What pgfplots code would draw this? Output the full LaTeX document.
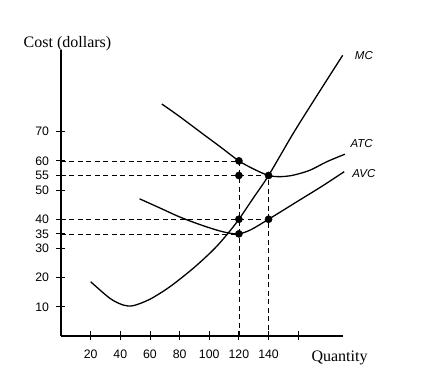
\documentclass[border=0pt]{standalone}
\usepackage{pgfplots}
\pgfplotsset{compat=1.18}
\usetikzlibrary{calc}
\usepackage{fontspec}
\setmainfont{Liberation Serif}
\newfontfamily\arial{Liberation Sans}
\begin{document}
\begin{tikzpicture}
\begin{axis}[
  scale only axis, width=281.7pt, height=286pt,
  xmin=0, xmax=190, ymin=0, ymax=98,
  axis lines=left, axis line style={-, line width=1.1pt},
  clip=false,
  tick align=center, major tick length=9pt,
  tick style={line width=0.9pt, black},
  xtick={20,40,60,80,100,120,140,160},
  xticklabels={20,40,60,80,100,120,140,{}},
  ytick={10,20,30,35,40,50,55,60,70},
  ticklabel style={font=\arial\fontsize{12.3}{13}\selectfont},
  /pgf/number format/assume math mode=true,
  xticklabel style={yshift=-6pt},
  yticklabel style={xshift=-4pt},
]
\coordinate (O) at (axis cs:0,0);
% dashed guide lines
\addplot[black, line width=0.7pt, dash pattern=on 5pt off 3.5pt] coordinates {(0,60)(120,60)(120,0)};
\addplot[black, line width=1.6pt, dash pattern=on 5pt off 3.5pt] coordinates {(0,55)(140,55)(140,0)};
\addplot[black, line width=0.7pt, dash pattern=on 5pt off 3.5pt] coordinates {(0,40)(140,40)};
\addplot[black, line width=0.7pt, dash pattern=on 5pt off 3.5pt] coordinates {(0,35)(120,35)};
% MC
\addplot[black, line width=1.3pt, smooth] coordinates {(20,18.6)(33,12.9)(42,10.6)(48.8,10.4)(60,12.6)(73.5,16.9)(89.2,23.2)(102.7,29.5)(111.7,34.6)(120,40)(130,47.5)(140,55)(156.6,69.4)(172.4,82.2)(190,96.2)};
% ATC
\addplot[black, line width=1.3pt, smooth] coordinates {(68,79.5)(80,75.2)(95,69.5)(108,64.6)(120,60)(130,57.2)(140,55)(148,54.6)(156.6,55.1)(167.9,56.8)(179.2,59.7)(191.5,62.3)};
% AVC
\addplot[black, line width=1.3pt, smooth] coordinates {(53,47)(67,43.8)(80,40.8)(93,38.3)(105,36.3)(113,35.3)(120,35)(128,36.4)(140,40)(161,46.6)(176,51.3)(191,56.3)};
% dots
\addplot[only marks, mark=*, mark size=3.6pt, black] coordinates {(120,60)(120,55)(140,55)(120,40)(140,40)(120,35)};
% labels
\node[font=\arial\itshape\fontsize{11.5}{12}\selectfont] at (axis cs:204.3,96.2) {MC};
\node[font=\arial\itshape\fontsize{11.5}{12}\selectfont] at (axis cs:202.8,66) {ATC};
\node[font=\arial\itshape\fontsize{11.5}{12}\selectfont] at (axis cs:204.3,55.5) {AVC};
\node[font=\fontsize{16}{18}\selectfont] at (axis cs:4.4,100.2) {Cost (dollars)};
\node[font=\fontsize{16}{18}\selectfont] at (axis cs:187.9,-7.6) {Quantity};
\end{axis}
\pgfresetboundingbox
\path[use as bounding box] ($(O)+(-61pt,-43pt)$) rectangle ($(O)+(363pt,336pt)$);
\end{tikzpicture}
\end{document}
